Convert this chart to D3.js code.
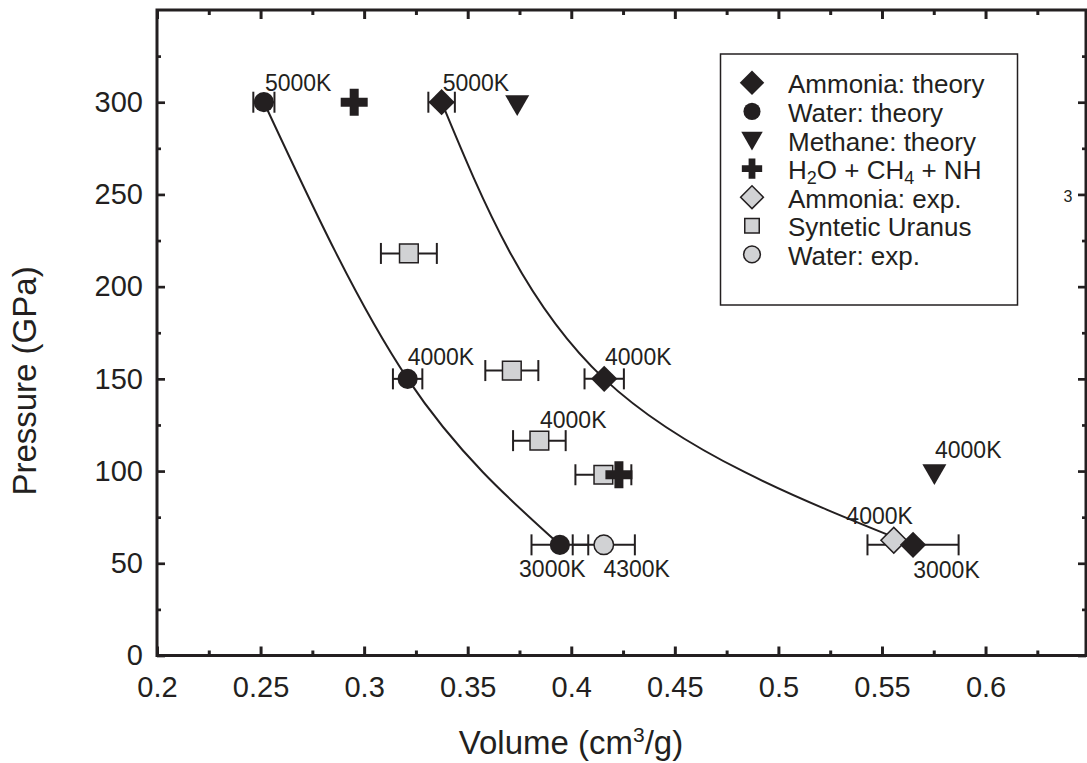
<!DOCTYPE html>
<html>
<head>
<meta charset="utf-8">
<script src="https://cdn.jsdelivr.net/npm/d3@7"></script>
<style>
  body { margin: 0; background: #fff; }
  svg text { font-family: "Liberation Sans", Arial, sans-serif; fill: #231f20; }
</style>
</head>
<body>
<svg id="chart" width="1087" height="763"></svg>
<script>
// DATA (volume cm3/g, pressure GPa, x error)
const ammoniaTheoryV = [0.3374, 0.4159, 0.5650];
const ammoniaTheoryP = [300, 150, 60];
const ammoniaTheoryErr = [0.0064, 0.0095, 0.022];

const waterTheoryV = [0.2516, 0.3210, 0.3945];
const waterTheoryP = [300, 150, 60];
const waterTheoryErr = [0.0051, 0.0071, 0.0137];

const methaneTheoryV = [0.3739, 0.5753];
const methaneTheoryP = [300, 100];

const mixtureV = [0.2952, 0.4230];
const mixtureP = [300, 98];

const ammoniaExpV = [0.5557];
const ammoniaExpP = [62.5];

const uranusV = [0.3216, 0.3713, 0.3846, 0.4155];
const uranusP = [218, 154.5, 116.5, 98];
const uranusErr = [0.0135, 0.0128, 0.0127, 0.0135];

const waterExpV = [0.4157];
const waterExpP = [60];
const waterExpErr = [0.015];

const tempLabels = ["5000K", "5000K", "4000K", "4000K", "4000K", "4000K", "4000K", "3000K", "3000K", "4300K"];
const tempLabelV = [0.2521, 0.3379, 0.3210, 0.4163, 0.3849, 0.5756, 0.5328, 0.5651, 0.3748, 0.4155];
const tempLabelP = [306.3, 306.3, 157.5, 157.5, 123.5, 107.1, 71.3, 41.9, 42.7, 42.7];

const xMajor = [0.2, 0.25, 0.3, 0.35, 0.4, 0.45, 0.5, 0.55, 0.6];
const xMinor = [0.225, 0.275, 0.325, 0.375, 0.425, 0.475, 0.525, 0.575, 0.625];
const yMajor = [0, 50, 100, 150, 200, 250, 300];
const yMinor = [25, 75, 125, 175, 225, 275, 325];

const legendNames = ["Ammonia: theory", "Water: theory", "Methane: theory", "mix", "Ammonia: exp.", "Syntetic Uranus", "Water: exp."];

// LAYOUT
const ink = "#231f20";
const grey = "#d1d2d4";
const plotLeft = 157, plotRight = 1086, plotTop = 10, plotBottom = 655.5;

const svg = d3.select("#chart");

const xScale = d3.scaleLinear().domain([0.2, 0.6485]).range([plotLeft, plotRight]);
const yScale = d3.scaleLinear().domain([0, 350]).range([plotBottom, plotTop]);

// axes, ticks pointing inward on all four sides
function styleAxis(g, w) {
  g.select(".domain").remove();
  g.selectAll(".tick line").attr("stroke", ink).attr("stroke-width", w);
  g.selectAll(".tick text").style("font-size", "29px").attr("fill", ink);
}

svg.append("g").attr("transform", `translate(0,${plotBottom})`)
  .call(d3.axisBottom(xScale).tickValues(xMajor).tickSize(-9).tickPadding(21).tickFormat(d3.format("")))
  .call(g => styleAxis(g, 3));
svg.append("g").attr("transform", `translate(0,${plotBottom})`)
  .call(d3.axisBottom(xScale).tickValues(xMinor).tickSize(-5).tickFormat(""))
  .call(g => styleAxis(g, 3));
svg.append("g").attr("transform", `translate(0,${plotTop})`)
  .call(d3.axisTop(xScale).tickValues(xMajor).tickSize(-9).tickFormat(""))
  .call(g => styleAxis(g, 3));
svg.append("g").attr("transform", `translate(0,${plotTop})`)
  .call(d3.axisTop(xScale).tickValues(xMinor).tickSize(-5).tickFormat(""))
  .call(g => styleAxis(g, 3));

svg.append("g").attr("transform", `translate(${plotLeft},0)`)
  .call(d3.axisLeft(yScale).tickValues(yMajor).tickSize(-8).tickPadding(14))
  .call(g => styleAxis(g, 2.7));
svg.append("g").attr("transform", `translate(${plotLeft},0)`)
  .call(d3.axisLeft(yScale).tickValues(yMinor).tickSize(-4).tickFormat(""))
  .call(g => styleAxis(g, 2.7));
svg.append("g").attr("transform", `translate(${plotRight},0)`)
  .call(d3.axisRight(yScale).tickValues(yMajor).tickSize(-8).tickFormat(""))
  .call(g => styleAxis(g, 2.7));
svg.append("g").attr("transform", `translate(${plotRight},0)`)
  .call(d3.axisRight(yScale).tickValues(yMinor).tickSize(-4).tickFormat(""))
  .call(g => styleAxis(g, 2.7));

svg.append("rect")
  .attr("x", plotLeft).attr("y", plotTop)
  .attr("width", plotRight - plotLeft).attr("height", plotBottom - plotTop)
  .attr("fill", "none").attr("stroke", ink).attr("stroke-width", 3);

// axis titles
const xTitle = svg.append("text")
  .attr("x", 571).attr("y", 754)
  .attr("text-anchor", "middle")
  .style("font-size", "33px");
xTitle.append("tspan").text("Volume (cm");
xTitle.append("tspan").attr("dy", -12).style("font-size", "21px").text("3");
xTitle.append("tspan").attr("dy", 12).text("/g)");

svg.append("text")
  .attr("transform", "translate(36,381) rotate(-90)")
  .attr("text-anchor", "middle")
  .style("font-size", "33px")
  .text("Pressure (GPa)");

// fit curves through theory points
const line = d3.line()
  .x(d => xScale(d[0]))
  .y(d => yScale(d[1]))
  .curve(d3.curveNatural);

[[waterTheoryV, waterTheoryP], [ammoniaTheoryV, ammoniaTheoryP]].forEach(([vs, ps]) => {
  svg.append("path")
    .attr("d", line(vs.map((v, i) => [v, ps[i]])))
    .attr("fill", "none").attr("stroke", ink).attr("stroke-width", 2);
});

// error bars
function errorBars(vs, ps, errs) {
  const g = svg.append("g").attr("stroke", ink).attr("stroke-width", 2);
  vs.forEach((v, i) => {
    const y = yScale(ps[i]);
    const x0 = xScale(v - errs[i]), x1 = xScale(v + errs[i]);
    g.append("line").attr("x1", x0).attr("x2", x1).attr("y1", y).attr("y2", y);
    g.append("line").attr("x1", x0).attr("x2", x0).attr("y1", y - 10.5).attr("y2", y + 10.5);
    g.append("line").attr("x1", x1).attr("x2", x1).attr("y1", y - 10.5).attr("y2", y + 10.5);
  });
}

errorBars(uranusV, uranusP, uranusErr);
errorBars(waterExpV, waterExpP, waterExpErr);
errorBars(waterTheoryV, waterTheoryP, waterTheoryErr);
errorBars(ammoniaTheoryV, ammoniaTheoryP, ammoniaTheoryErr);

// marker shapes
const shapes = {
  diamond: { type: d3.symbolSquare, rot: 45 },
  circle: { type: d3.symbolCircle, rot: 0 },
  triangle: { type: d3.symbolTriangle, rot: 180 },
  cross: { type: d3.symbolCross, rot: 0 },
  square: { type: d3.symbolSquare, rot: 0 }
};

function markers(vs, ps, shape, size, fill) {
  const s = shapes[shape];
  svg.append("g").selectAll("path")
    .data(vs.map((v, i) => [v, ps[i]]))
    .join("path")
    .attr("d", d3.symbol().type(s.type).size(size))
    .attr("transform", d => `translate(${xScale(d[0])},${yScale(d[1])}) rotate(${s.rot})`)
    .attr("fill", fill)
    .attr("stroke", ink)
    .attr("stroke-width", fill === ink ? 0 : 1.5);
}

markers(ammoniaExpV, ammoniaExpP, "diamond", 330, grey);
markers(uranusV, uranusP, "square", 350, grey);
markers(waterExpV, waterExpP, "circle", 300, grey);
markers(ammoniaTheoryV, ammoniaTheoryP, "diamond", 345, ink);
markers(waterTheoryV, waterTheoryP, "circle", 320, ink);
markers(methaneTheoryV, methaneTheoryP, "triangle", 250, ink);
markers(mixtureV, mixtureP, "cross", 405, ink);

// temperature annotations
svg.append("g").selectAll("text")
  .data(tempLabels)
  .join("text")
  .attr("x", (d, i) => xScale(tempLabelV[i]))
  .attr("y", (d, i) => yScale(tempLabelP[i]))
  .style("font-size", "23px")
  .text(d => d);

// legend
const legend = svg.append("g");
legend.append("rect")
  .attr("x", 720.5).attr("y", 54)
  .attr("width", 297).attr("height", 251)
  .attr("fill", "#fff").attr("stroke", ink).attr("stroke-width", 1.5);

const legendSymbols = [
  ["diamond", 300, ink], ["circle", 230, ink], ["triangle", 200, ink], ["cross", 230, ink],
  ["diamond", 260, grey], ["square", 210, grey], ["circle", 220, grey]
];

legendNames.forEach((name, i) => {
  const base = 93.3 + i * 28.6;
  const [shape, size, fill] = legendSymbols[i];
  const s = shapes[shape];
  legend.append("path")
    .attr("d", d3.symbol().type(s.type).size(size))
    .attr("transform", `translate(752,${base - 10.5 + (shape === "triangle" ? -2 : 0)}) rotate(${s.rot})`)
    .attr("fill", fill).attr("stroke", ink)
    .attr("stroke-width", fill === ink ? 0 : 1.5);
  const t = legend.append("text").attr("x", 788).attr("y", base).style("font-size", "26px");
  if (name === "mix") {
    t.append("tspan").text("H");
    t.append("tspan").attr("baseline-shift", "-25%").style("font-size", "18px").text("2");
    t.append("tspan").text("O + CH");
    t.append("tspan").attr("baseline-shift", "-25%").style("font-size", "18px").text("4");
    t.append("tspan").text(" + NH");
  } else {
    t.text(name);
  }
});

// stray subscript of NH3, outside the legend box
svg.append("text")
  .attr("x", 1068).attr("y", 202)
  .attr("text-anchor", "middle")
  .style("font-size", "16px")
  .text("3");
</script>
</body>
</html>
